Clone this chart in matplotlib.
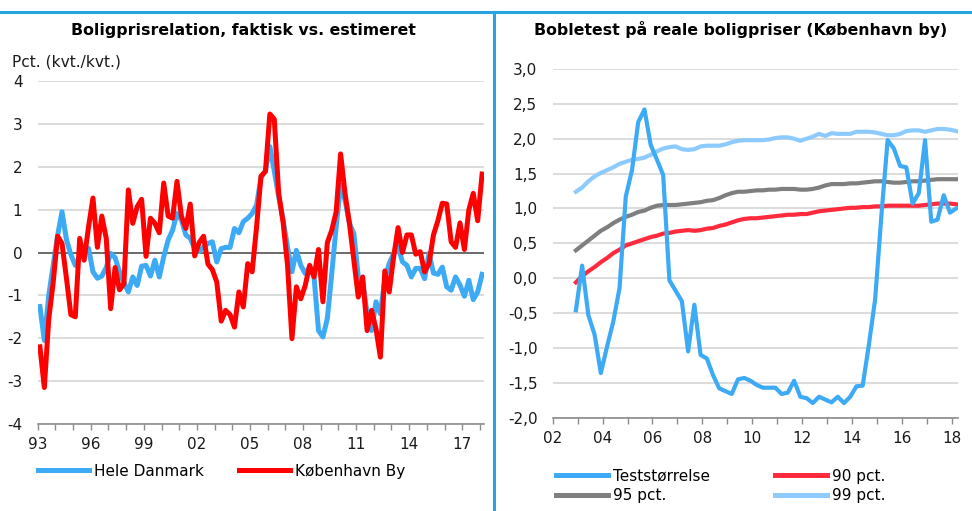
import numpy as np
import matplotlib
matplotlib.use("Agg")
import matplotlib.pyplot as plt
from matplotlib.lines import Line2D

plt.rcParams['font.family'] = ['DejaVu Sans']

# ---------------- Left chart data (quarterly, 1993Q1 - 2018Q1) ----------------
left_first_year = 1993
hele_danmark = [
    -1.26, -2.05, -1.0, -0.3, 0.4, 0.95, 0.3, -0.05, -0.3, -0.1,
    0.05, 0.1, -0.45, -0.6, -0.55, -0.35, -0.02, -0.12, -0.45, -0.7,
    -0.92, -0.57, -0.77, -0.32, -0.30, -0.55, -0.18, -0.57, -0.1, 0.29,
    0.52, 0.91, 0.76, 0.41, 0.33, 0.09, 0.02, 0.13, 0.21, 0.25,
    -0.22, 0.09, 0.12, 0.12, 0.56, 0.46, 0.72, 0.80, 0.91, 1.11,
    1.75, 1.9, 2.47, 1.9, 1.30, 0.76, 0.13, -0.45, 0.05, -0.30,
    -0.49, -0.34, -0.57, -1.82, -1.97, -1.54, -0.49, 0.60, 1.57, 1.22,
    0.68, 0.44, -0.57, -0.69, -1.43, -1.82, -1.15, -1.43, -0.61, -0.26,
    -0.02, 0.13, -0.22, -0.30, -0.57, -0.37, -0.37, -0.61, -0.02, -0.48,
    -0.51, -0.34, -0.80, -0.88, -0.57, -0.76, -1.02, -0.65, -1.10, -0.92,
    -0.51,
]
koebenhavn_by = [
    -2.20, -3.15, -1.55, -0.7, 0.38, 0.21, -0.6, -1.45, -1.5, 0.33,
    -0.18, 0.6, 1.27, 0.12, 0.85, 0.33, -1.31, -0.35, -0.87, -0.73,
    1.46, 0.68, 1.07, 1.24, -0.09, 0.80, 0.68, 0.46, 1.62, 0.85,
    0.80, 1.66, 0.85, 0.56, 1.13, -0.08, 0.23, 0.38, -0.27, -0.40,
    -0.69, -1.60, -1.35, -1.45, -1.74, -0.92, -1.27, -0.26, -0.45, 0.6,
    1.78, 1.89, 3.23, 3.11, 1.38, 0.7, -0.3, -2.01, -0.80, -1.08,
    -0.77, -0.3, -0.57, 0.07, -1.15, 0.23, 0.52, 0.95, 2.30, 1.38,
    0.68, -0.18, -1.04, -0.57, -1.82, -1.35, -1.78, -2.44, -0.43, -0.92,
    -0.10, 0.58, 0.0, 0.41, 0.41, -0.04, 0.02, -0.45, -0.26, 0.41,
    0.74, 1.15, 1.13, 0.25, 0.12, 0.69, 0.07, 0.99, 1.38, 0.74,
    1.83,
]
left_series_names = ['Hele Danmark', 'København By']
left_xtick_years = [1993, 1996, 1999, 2002, 2005, 2008, 2011, 2014, 2017]
left_xtick_labels = ['93', '96', '99', '02', '05', '08', '11', '14', '17']
left_yticks = [-4, -3, -2, -1, 0, 1, 2, 3, 4]

# ---------------- Right chart data (quarterly, 2003 - 2018) ----------------
right_first_year = 2002.93
teststoerrelse = [
    -0.46, 0.18, -0.53, -0.81, -1.36, -0.98, -0.62, -0.14, 1.17, 1.55,
    2.24, 2.42, 1.91, 1.70, 1.48, -0.03, -0.18, -0.33, -1.05, -0.38,
    -1.10, -1.15, -1.39, -1.58, -1.62, -1.66, -1.45, -1.43, -1.47, -1.53,
    -1.57, -1.57, -1.57, -1.66, -1.64, -1.47, -1.70, -1.72, -1.79, -1.70,
    -1.74, -1.78, -1.70, -1.79, -1.70, -1.55, -1.54, -0.95, -0.3, 0.9,
    1.98, 1.86, 1.61, 1.59, 1.07, 1.22, 1.98, 0.81, 0.84, 1.19,
    0.94, 1.00,
]
pct90 = [
    -0.06, 0.03, 0.10, 0.16, 0.23, 0.29, 0.36, 0.41, 0.47, 0.50,
    0.53, 0.56, 0.59, 0.61, 0.64, 0.65, 0.67, 0.68, 0.69, 0.68,
    0.69, 0.71, 0.72, 0.75, 0.77, 0.80, 0.83, 0.85, 0.86, 0.86,
    0.87, 0.88, 0.89, 0.90, 0.91, 0.91, 0.92, 0.92, 0.94, 0.96,
    0.97, 0.98, 0.99, 1.00, 1.01, 1.01, 1.02, 1.02, 1.03, 1.03,
    1.04, 1.04, 1.04, 1.04, 1.04, 1.04, 1.05, 1.06, 1.07, 1.07,
    1.07, 1.06,
]
pct95 = [
    0.40, 0.47, 0.54, 0.61, 0.68, 0.73, 0.79, 0.84, 0.88, 0.91,
    0.95, 0.97, 1.01, 1.04, 1.05, 1.05, 1.05, 1.06, 1.07, 1.08,
    1.09, 1.11, 1.12, 1.15, 1.19, 1.22, 1.24, 1.24, 1.25, 1.26,
    1.26, 1.27, 1.27, 1.28, 1.28, 1.28, 1.27, 1.27, 1.28, 1.30,
    1.33, 1.35, 1.35, 1.35, 1.36, 1.36, 1.37, 1.38, 1.39, 1.39,
    1.38, 1.37, 1.37, 1.38, 1.39, 1.39, 1.40, 1.41, 1.42, 1.42,
    1.42, 1.42,
]
pct99 = [
    1.24, 1.30, 1.39, 1.46, 1.51, 1.55, 1.59, 1.64, 1.67, 1.70,
    1.71, 1.73, 1.77, 1.82, 1.86, 1.88, 1.89, 1.85, 1.84, 1.85,
    1.89, 1.90, 1.90, 1.90, 1.92, 1.95, 1.97, 1.98, 1.98, 1.98,
    1.98, 1.99, 2.01, 2.02, 2.02, 2.00, 1.97, 2.00, 2.03, 2.07,
    2.04, 2.08, 2.07, 2.07, 2.07, 2.10, 2.10, 2.10, 2.09, 2.07,
    2.05, 2.05, 2.07, 2.11, 2.12, 2.12, 2.10, 2.12, 2.14, 2.14,
    2.13, 2.11,
]
right_series_names = ['Teststørrelse', '95 pct.', '90 pct.', '99 pct.']
right_xtick_years = [2002, 2004, 2006, 2008, 2010, 2012, 2014, 2016, 2018]
right_xtick_labels = ['02', '04', '06', '08', '10', '12', '14', '16', '18']
right_yticks = [-2.0, -1.5, -1.0, -0.5, 0.0, 0.5, 1.0, 1.5, 2.0, 2.5, 3.0]
right_ytick_labels = ['-2,0', '-1,5', '-1,0', '-0,5', '0,0', '0,5',
                      '1,0', '1,5', '2,0', '2,5', '3,0']

# ---------------- Styling ----------------
W, H = 972, 511
BLUE = '#3DAAF5'
RED = '#FF0000'
RED2 = '#FF2B3C'
GREY = '#7F7F7F'
LBLUE = '#8DCBFF'
GRID = '#D9D9D9'
AXIS = '#8C8C8C'
FRAME = '#27A4DD'
TXT = '#1a1a1a'
FS = 11

fig = plt.figure(figsize=(W / 100, H / 100), dpi=100)


def fx(px):
    return px / W


def fy(py):
    return 1 - py / H


def style_axes(ax):
    for s in ['left', 'right', 'top']:
        ax.spines[s].set_visible(False)
    ax.spines['bottom'].set_color(AXIS)
    ax.spines['bottom'].set_linewidth(1.2)
    ax.yaxis.grid(True, color=GRID, linewidth=1.3)
    ax.set_axisbelow(True)
    ax.tick_params(axis='y', length=0, pad=11, labelsize=FS, colors=TXT)
    ax.tick_params(axis='x', which='both', direction='out', length=4.5,
                   width=1.0, color=AXIS, pad=5, labelsize=FS, labelcolor=TXT)


# ---------------- Left chart ----------------
ax1 = fig.add_axes([fx(37.7), fy(424), fx(484.3 - 37.7), (424 - 81) / H])
n_left = len(hele_danmark)
x_left = left_first_year + (np.arange(n_left) + 0.5) / 4
ax1.plot(x_left, hele_danmark, color=BLUE, lw=3.6, solid_joinstyle='round', zorder=3)
ax1.plot(x_left, koebenhavn_by, color=RED, lw=3.6, solid_joinstyle='round', zorder=4)
ax1.axhline(0, color='#595959', lw=1.2, zorder=2)
ax1.set_xlim(left_first_year, left_first_year + n_left / 4)
ax1.set_ylim(-4, 4)
ax1.set_yticks(left_yticks)
ax1.set_yticklabels([str(v) for v in left_yticks])
ax1.set_xticks(left_xtick_years)
ax1.set_xticklabels(left_xtick_labels)
ax1.set_xticks(np.arange(left_first_year, left_first_year + n_left / 4 + 0.01, 1), minor=True)
style_axes(ax1)

fig.text(fx(243.5), fy(30), 'Boligprisrelation, faktisk vs. estimeret',
         ha='center', va='center', fontsize=11.3, fontweight='bold')
fig.text(fx(12), fy(62), 'Pct. (kvt./kvt.)', ha='left', va='center', fontsize=11.2,
         color=TXT)

leg1_handles = [Line2D([], [], color=BLUE, lw=3.6), Line2D([], [], color=RED, lw=3.6)]
fig.legend(leg1_handles, left_series_names, loc='center left',
           bbox_to_anchor=(fx(38), fy(471)), ncol=2, frameon=False,
           fontsize=FS, handlelength=3.35, handletextpad=0.33,
           columnspacing=2.3, borderpad=0, borderaxespad=0)

# ---------------- Right chart ----------------
ax2 = fig.add_axes([fx(552.7), fy(417.7), fx(957.7 - 552.7), (417.7 - 69) / H])
n_right = len(teststoerrelse)
x_right = right_first_year + np.arange(n_right) * 0.25
ax2.plot(x_right, pct99, color=LBLUE, lw=3.0, zorder=3)
ax2.plot(x_right, pct95, color=GREY, lw=3.0, zorder=3)
ax2.plot(x_right, pct90, color=RED2, lw=3.0, zorder=3)
ax2.plot(x_right, teststoerrelse, color=BLUE, lw=3.0, zorder=4)
ax2.set_xlim(2002, 2018.24)
ax2.set_ylim(-2, 3)
ax2.set_yticks(right_yticks)
ax2.set_yticklabels(right_ytick_labels)
ax2.set_xticks(right_xtick_years)
ax2.set_xticklabels(right_xtick_labels)
ax2.set_xticks(np.arange(2002, 2019, 1), minor=True)
style_axes(ax2)

fig.text(fx(741), fy(30), 'Bobletest på reale boligpriser (København by)',
         ha='center', va='center', fontsize=11.3, fontweight='bold')

leg2_handles = [Line2D([], [], color=BLUE, lw=3.6), Line2D([], [], color=GREY, lw=3.6),
                Line2D([], [], color=RED2, lw=3.6), Line2D([], [], color=LBLUE, lw=3.6)]
fig.legend(leg2_handles, right_series_names, loc='center left',
           bbox_to_anchor=(fx(556), fy(486)), ncol=2, frameon=False,
           fontsize=FS, handlelength=3.4, handletextpad=0.33,
           columnspacing=4.25, labelspacing=0.3, borderpad=0, borderaxespad=0)

# ---------------- Frame lines ----------------
fig.add_artist(Line2D([0, 1], [fy(12), fy(12)], color=FRAME, lw=2.2,
                      transform=fig.transFigure))
fig.add_artist(Line2D([fx(494), fx(494)], [0, fy(12)], color=FRAME, lw=2.2,
                      transform=fig.transFigure))

fig.savefig('out.png', dpi=100)
